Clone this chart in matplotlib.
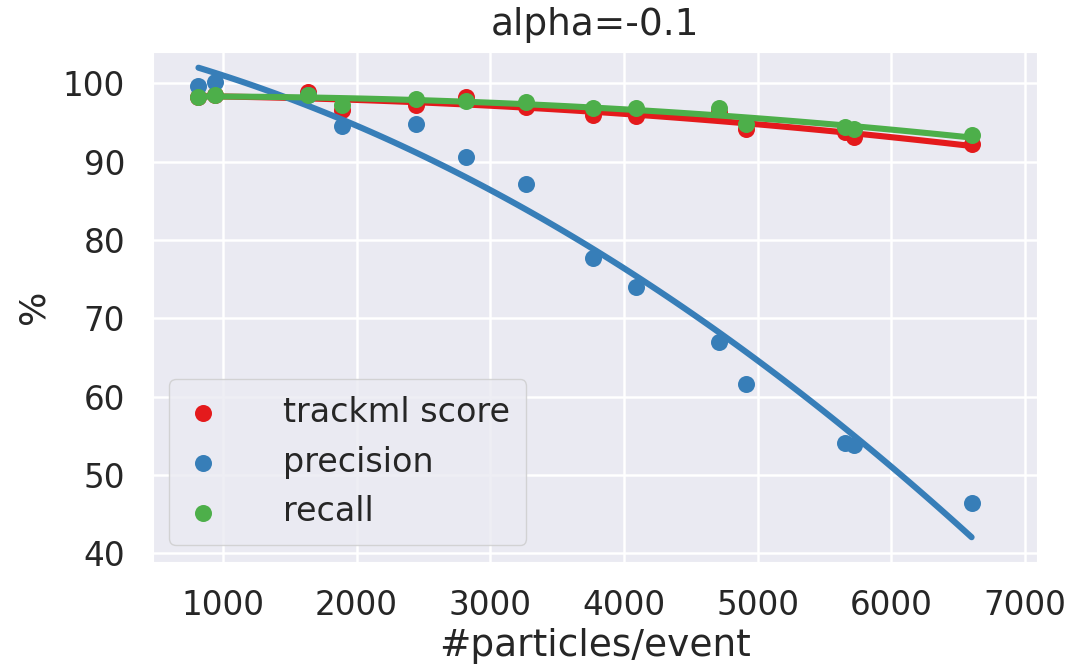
import numpy as np
import matplotlib
matplotlib.use("Agg")
import matplotlib.pyplot as plt
import seaborn as sns

# particles per event for each test event
n_particles = [818, 943, 1639, 1888, 2448, 2821, 3269, 3766, 4090, 4713, 4913, 5653, 5720, 6600]

# metrics in percent
trackml_score = [98.3, 98.5, 98.9, 96.6, 97.2, 98.3, 97.0, 96.0, 95.8, 96.4, 94.2, 93.8, 93.1, 92.2]
precision = [99.6, 100.2, 98.5, 94.6, 94.8, 90.6, 87.2, 77.7, 74.0, 67.0, 61.6, 54.1, 53.8, 46.4]
recall = [98.3, 98.5, 98.5, 97.2, 98.0, 97.8, 97.6, 96.8, 96.8, 96.8, 94.8, 94.4, 94.2, 93.4]

alpha = -0.1

sns.set_style("darkgrid")
palette = sns.color_palette("Set1")
red, blue, green = palette[0], palette[1], palette[2]


def fit_line(x, y, order=2, n=100):
    x = np.asarray(x, dtype=float)
    y = np.asarray(y, dtype=float)
    coef = np.polyfit(x, y, order)
    xs = np.linspace(x.min(), x.max(), n)
    return xs, np.polyval(coef, xs)


fig = plt.figure(figsize=(10.71, 6.68), dpi=100)
ax = fig.add_axes([0.1426, 0.1591, 0.8254, 0.7635])

series = [
    ("trackml score", trackml_score, red),
    ("precision", precision, blue),
    ("recall", recall, green),
]
for label, values, color in series:
    ax.scatter(n_particles, values, s=150, color=color, linewidths=0,
               label=label, zorder=3)
    xs, ys = fit_line(n_particles, values)
    ax.plot(xs, ys, color=color, lw=4.4, solid_capstyle="round", zorder=3)

ax.set_xlim(476, 7087)
ax.set_ylim(38.93, 104.04)
ax.set_xticks(range(1000, 8000, 1000))
ax.set_yticks(range(40, 101, 10))
ax.grid(True, color="white", lw=1.8)
ax.tick_params(labelsize=23.5, length=0, pad=20, colors="#262626")

ax.set_title("alpha={}".format(alpha), fontsize=27, color="#262626", pad=12)
ax.set_xlabel("#particles/event", fontsize=27, color="#262626", labelpad=4)
ax.set_ylabel("%", fontsize=26, color="#262626", labelpad=9)

leg = ax.legend(loc="lower left", fontsize=24, frameon=True,
                edgecolor="0.8", facecolor="#EAEAF2", framealpha=0.8,
                handlelength=1.0, handletextpad=1.9, borderpad=0.5)

fig.savefig("out.png", dpi=100)
